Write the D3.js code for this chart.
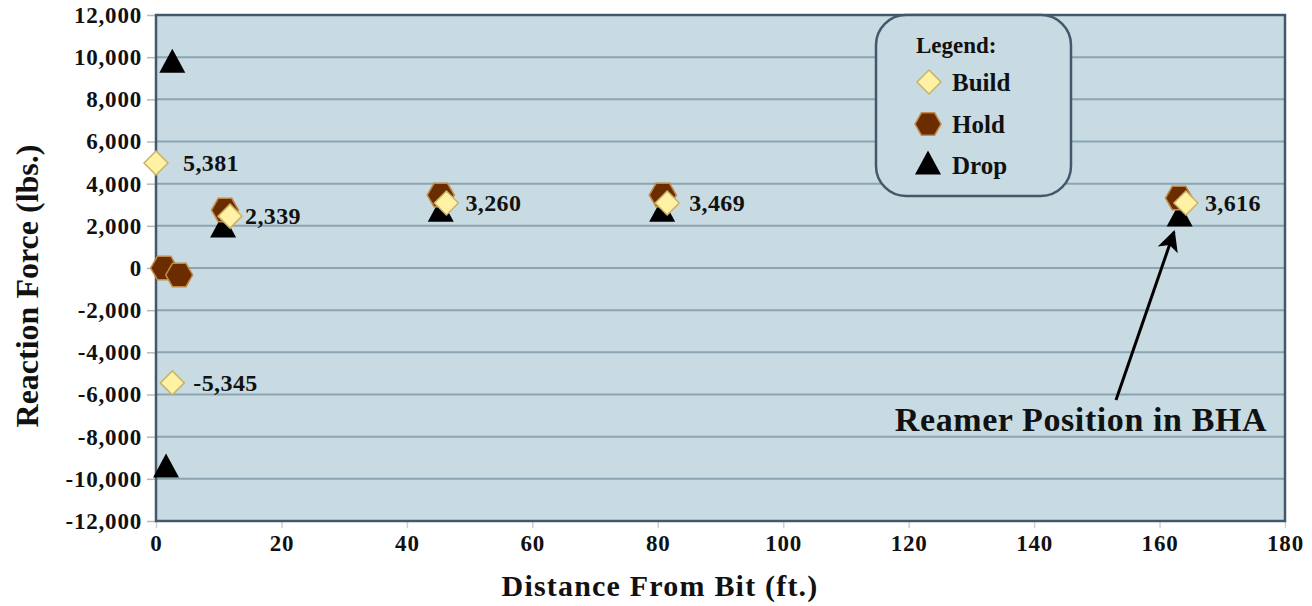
<!DOCTYPE html>
<html><head><meta charset="utf-8">
<script src="https://cdn.jsdelivr.net/npm/d3@7"></script>
<style>
html,body{margin:0;padding:0;background:#fff;}
svg text{font-family:"Liberation Serif","DejaVu Serif",serif;font-weight:bold;fill:#111;}
</style></head><body>
<svg id="c" width="1312" height="606"></svg>
<script>
// ---- data ----
const buildX = [0, 11.8, 2.6, 46.3, 81.5, 164.2];
const buildY = [4980, 2460, -5450, 3080, 3080, 3080];
const buildLabels = ["5,381", "2,339", "-5,345", "3,260", "3,469", "3,616"];
const holdX = [1.3, 3.7, 11.0, 45.4, 80.8, 163.1];
const holdY = [0, -330, 2750, 3460, 3460, 3320];
const dropX = [2.6, 1.6, 10.7, 45.4, 80.7, 163.2];
const dropY = [9720, -9480, 1900, 2650, 2650, 2420];
const xTicks = [0, 20, 40, 60, 80, 100, 120, 140, 160, 180];
const yTicks = [-12000, -10000, -8000, -6000, -4000, -2000, 0, 2000, 4000, 6000, 8000, 10000, 12000];
const yTickLabels = ["-12,000","-10,000","-8,000","-6,000","-4,000","-2,000","0","2,000","4,000","6,000","8,000","10,000","12,000"];
const legendNames = ["Build", "Hold", "Drop"];

const L = 156, R = 1285, T = 15, B = 521;
const svg = d3.select("#c");
const x = d3.scaleLinear().domain([0, 180]).range([L, R]);
const y = d3.scaleLinear().domain([-12000, 12000]).range([B, T]);

// plot background
svg.append("rect").attr("x", L).attr("y", T).attr("width", R - L).attr("height", B - T)
  .attr("fill", "#c8dbe2");

// gridlines
svg.append("g").selectAll("line").data(yTicks.slice(1, -1)).join("line")
  .attr("x1", L).attr("x2", R).attr("y1", d => y(d)).attr("y2", d => y(d))
  .attr("stroke", "#8aa4b2").attr("stroke-width", 2);

// y axis
const yAxis = d3.axisLeft(y).tickValues(yTicks).tickSize(9).tickPadding(5)
  .tickFormat((d, i) => yTickLabels[i]);
const gy = svg.append("g").attr("transform", `translate(${L},0)`).call(yAxis);
gy.select(".domain").remove();
gy.selectAll(".tick line").attr("stroke", "#b8b8b8").attr("stroke-width", 1.5);
gy.selectAll(".tick text").attr("font-size", 23).attr("letter-spacing", 0.8)
  .attr("font-family", "Liberation Serif").attr("font-weight", "bold").attr("fill", "#111");

// x axis
const xAxis = d3.axisBottom(x).tickValues(xTicks).tickSize(7).tickPadding(7).tickFormat(d => d);
const gx = svg.append("g").attr("transform", `translate(0,${B})`).call(xAxis);
gx.select(".domain").remove();
gx.selectAll(".tick line").attr("stroke", "#d0d0d0").attr("stroke-width", 1.5);
gx.selectAll(".tick text").attr("font-size", 23).attr("letter-spacing", 0.8)
  .attr("font-family", "Liberation Serif").attr("font-weight", "bold").attr("fill", "#111");

// plot border
svg.append("rect").attr("x", L).attr("y", T).attr("width", R - L).attr("height", B - T)
  .attr("fill", "none").attr("stroke", "#41596b").attr("stroke-width", 2.5);

// axis titles
svg.append("text").attr("transform", `translate(38,${(T + B) / 2 + 18}) rotate(-90)`)
  .attr("text-anchor", "middle").attr("font-size", 32).text("Reaction Force (lbs.)");
svg.append("text").attr("x", 660).attr("y", 596).attr("text-anchor", "middle")
  .attr("font-size", 30).attr("letter-spacing", 1.2).text("Distance From Bit (ft.)");

// marker shapes
const diamond = s => `M0,${-s}L${s},0L0,${s}L${-s},0Z`;
const hexagon = r => {
  const pts = d3.range(6).map(i => { const a = Math.PI / 3 * i; return [r * Math.cos(a), r * Math.sin(a)]; });
  return "M" + pts.map(p => p.join(",")).join("L") + "Z";
};
const triangle = (w, h) => `M0,${-h * 0.6}L${w / 2},${h * 0.4}L${-w / 2},${h * 0.4}Z`;

const styleBuild = sel => sel.attr("fill", "#fff2a4").attr("stroke", "#c9b26a").attr("stroke-width", 1.5);
const styleHold = sel => sel.attr("fill", "#6b2c00").attr("stroke", "#c08a4a").attr("stroke-width", 1.5);
const styleDrop = sel => sel.attr("fill", "#000").attr("stroke", "none");

// drop
svg.append("g").selectAll("path").data(dropX.map((d, i) => [d, dropY[i]])).join("path")
  .attr("d", triangle(26, 24)).attr("transform", d => `translate(${x(d[0])},${y(d[1])})`).call(styleDrop);
// hold
svg.append("g").selectAll("path").data(holdX.map((d, i) => [d, holdY[i]])).join("path")
  .attr("d", hexagon(13.5)).attr("transform", d => `translate(${x(d[0])},${y(d[1])})`).call(styleHold);
// build
svg.append("g").selectAll("path").data(buildX.map((d, i) => [d, buildY[i]])).join("path")
  .attr("d", diamond(12)).attr("transform", d => `translate(${x(d[0])},${y(d[1])})`).call(styleBuild);

// data labels
const labelDx = [27, 15, 21, 19, 22, 19];
svg.append("g").selectAll("text").data(buildLabels).join("text")
  .attr("x", (d, i) => x(buildX[i]) + labelDx[i]).attr("y", (d, i) => y(buildY[i]) + 8)
  .attr("font-size", 24).attr("letter-spacing", 0.4).text(d => d);

// legend
const lg = svg.append("g");
lg.append("rect").attr("x", 876).attr("y", 15).attr("width", 195).attr("height", 181)
  .attr("rx", 30).attr("ry", 30).attr("fill", "#c8dbe2").attr("stroke", "#41596b").attr("stroke-width", 2.5);
lg.append("text").attr("x", 916).attr("y", 53).attr("font-size", 23).text("Legend:");
const lgY = [82, 124, 165];
lg.append("path").attr("d", diamond(12)).attr("transform", `translate(929,${lgY[0]})`).call(styleBuild);
lg.append("path").attr("d", hexagon(13)).attr("transform", `translate(928,${lgY[1]})`).call(styleHold);
lg.append("path").attr("d", triangle(26, 24)).attr("transform", `translate(928,${lgY[2]})`).call(styleDrop);
lg.selectAll("text.item").data(legendNames).join("text").attr("class", "item")
  .attr("x", 952).attr("y", (d, i) => lgY[i] + 9).attr("font-size", 25).text(d => d);

// annotation
svg.append("defs").append("marker").attr("id", "ah").attr("viewBox", "0 0 10 10")
  .attr("refX", 9).attr("refY", 5).attr("markerWidth", 7).attr("markerHeight", 7)
  .attr("markerUnits", "strokeWidth").attr("orient", "auto")
  .append("path").attr("d", "M0,0L10,5L0,10L2.5,5Z").attr("fill", "#000");
svg.append("line").attr("x1", 1116).attr("y1", 400).attr("x2", 1174).attr("y2", 232)
  .attr("stroke", "#000").attr("stroke-width", 3).attr("marker-end", "url(#ah)");
svg.append("text").attr("x", 1081).attr("y", 431).attr("text-anchor", "middle")
  .attr("font-size", 34).attr("letter-spacing", 0.6).text("Reamer Position in BHA");
</script>
</body></html>
